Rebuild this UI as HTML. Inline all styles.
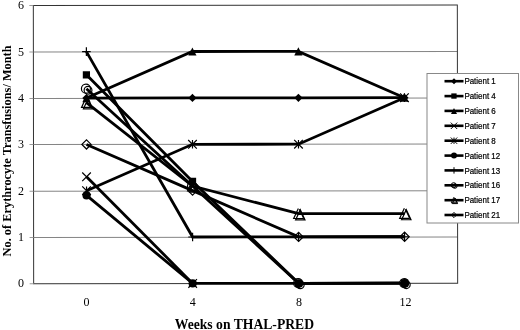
<!DOCTYPE html><html><head><meta charset="utf-8"><title>Chart</title><style>html,body{margin:0;padding:0;background:#fff}svg{display:block}text{fill:#000}</style></head><body>
<svg width="520" height="330" viewBox="0 0 520 330">
<rect width="520" height="330" fill="#fff"/>
<g transform="rotate(-0.068 33.5 150)">
<line x1="33.5" x2="457.5" y1="237.5" y2="237.5" stroke="#858585" stroke-width="1"/>
<line x1="33.5" x2="457.5" y1="191.3" y2="191.3" stroke="#858585" stroke-width="1"/>
<line x1="33.5" x2="457.5" y1="144.5" y2="144.5" stroke="#858585" stroke-width="1"/>
<line x1="33.5" x2="457.5" y1="98.4" y2="98.4" stroke="#858585" stroke-width="1"/>
<line x1="33.5" x2="457.5" y1="52.0" y2="52.0" stroke="#858585" stroke-width="1"/>
<rect x="33.5" y="5.5" width="424.0" height="278.3" fill="none" stroke="#333" stroke-width="1"/>
<line x1="29.5" x2="33.5" y1="283.8" y2="283.8" stroke="#999" stroke-width="1"/>
<line x1="29.5" x2="33.5" y1="237.5" y2="237.5" stroke="#999" stroke-width="1"/>
<line x1="29.5" x2="33.5" y1="191.3" y2="191.3" stroke="#999" stroke-width="1"/>
<line x1="29.5" x2="33.5" y1="144.5" y2="144.5" stroke="#999" stroke-width="1"/>
<line x1="29.5" x2="33.5" y1="98.4" y2="98.4" stroke="#999" stroke-width="1"/>
<line x1="29.5" x2="33.5" y1="52.0" y2="52.0" stroke="#999" stroke-width="1"/>
<line x1="29.5" x2="33.5" y1="5.5" y2="5.5" stroke="#999" stroke-width="1"/>
<polyline points="86.5,98.1 192.5,98.1 298.5,98.1 404.5,98.1" fill="none" stroke="#000" stroke-width="2.8" stroke-linejoin="miter"/>
<polyline points="86.5,74.9 192.5,181.6 298.5,283.6 404.5,283.6" fill="none" stroke="#000" stroke-width="2.8" stroke-linejoin="miter"/>
<polyline points="86.5,98.1 192.5,51.7 298.5,51.7 404.5,98.1" fill="none" stroke="#000" stroke-width="2.8" stroke-linejoin="miter"/>
<polyline points="86.5,176.9 192.5,283.6" fill="none" stroke="#000" stroke-width="2.8" stroke-linejoin="miter"/>
<polyline points="86.5,190.8 192.5,144.5 298.5,144.5 404.5,98.1" fill="none" stroke="#000" stroke-width="2.8" stroke-linejoin="miter"/>
<polyline points="86.5,195.5 192.5,283.6 298.5,283.6 404.5,283.6" fill="none" stroke="#000" stroke-width="2.8" stroke-linejoin="miter"/>
<polyline points="86.5,51.7 192.5,237.2 298.5,237.2 404.5,237.2" fill="none" stroke="#000" stroke-width="2.8" stroke-linejoin="miter"/>
<polyline points="86.5,88.8 192.5,186.2 298.5,283.6 404.5,283.6" fill="none" stroke="#000" stroke-width="2.8" stroke-linejoin="miter"/>
<polyline points="86.5,102.7 192.5,186.2 298.5,214.0 404.5,214.0" fill="none" stroke="#000" stroke-width="2.8" stroke-linejoin="miter"/>
<polyline points="86.5,144.5 192.5,190.8 298.5,237.2 404.5,237.2" fill="none" stroke="#000" stroke-width="2.8" stroke-linejoin="miter"/>
<path d="M82.4 98.1L86.5 94.0L90.6 98.1L86.5 102.2Z" fill="#000"/>
<path d="M188.4 98.1L192.5 94.0L196.6 98.1L192.5 102.2Z" fill="#000"/>
<path d="M294.4 98.1L298.5 94.0L302.6 98.1L298.5 102.2Z" fill="#000"/>
<path d="M400.4 98.1L404.5 94.0L408.6 98.1L404.5 102.2Z" fill="#000"/>
<rect x="82.9" y="71.3" width="7.2" height="7.2" fill="#000"/>
<rect x="188.9" y="178.0" width="7.2" height="7.2" fill="#000"/>
<rect x="294.9" y="280.0" width="7.2" height="7.2" fill="#000"/>
<rect x="400.9" y="280.0" width="7.2" height="7.2" fill="#000"/>
<path d="M82.4 102.2L86.5 94.0L90.6 102.2Z" fill="#000"/>
<path d="M188.4 55.8L192.5 47.6L196.6 55.8Z" fill="#000"/>
<path d="M294.4 55.8L298.5 47.6L302.6 55.8Z" fill="#000"/>
<path d="M400.4 102.2L404.5 94.0L408.6 102.2Z" fill="#000"/>
<path d="M82.2 172.6L90.8 181.2M82.2 181.2L90.8 172.6" stroke="#000" stroke-width="1.2" fill="none"/>
<path d="M188.2 279.3L196.8 287.9M188.2 287.9L196.8 279.3" stroke="#000" stroke-width="1.2" fill="none"/>
<path d="M82.2 186.5L90.8 195.1M82.2 195.1L90.8 186.5M86.5 186.5L86.5 195.1" stroke="#000" stroke-width="1.2" fill="none"/>
<path d="M188.2 140.2L196.8 148.8M188.2 148.8L196.8 140.2M192.5 140.2L192.5 148.8" stroke="#000" stroke-width="1.2" fill="none"/>
<path d="M294.2 140.2L302.8 148.8M294.2 148.8L302.8 140.2M298.5 140.2L298.5 148.8" stroke="#000" stroke-width="1.2" fill="none"/>
<path d="M400.2 93.8L408.8 102.4M400.2 102.4L408.8 93.8M404.5 93.8L404.5 102.4" stroke="#000" stroke-width="1.2" fill="none"/>
<circle cx="86.5" cy="195.5" r="4.1" fill="#000"/>
<circle cx="192.5" cy="283.6" r="4.1" fill="#000"/>
<circle cx="298.5" cy="283.6" r="4.1" fill="#000"/>
<circle cx="404.5" cy="283.6" r="4.1" fill="#000"/>
<path d="M82.2 51.7L90.8 51.7M86.5 47.4L86.5 56.0" stroke="#000" stroke-width="1.2" fill="none"/>
<path d="M188.2 237.2L196.8 237.2M192.5 232.9L192.5 241.5" stroke="#000" stroke-width="1.2" fill="none"/>
<path d="M294.2 237.2L302.8 237.2M298.5 232.9L298.5 241.5" stroke="#000" stroke-width="1.2" fill="none"/>
<path d="M400.2 237.2L408.8 237.2M404.5 232.9L404.5 241.5" stroke="#000" stroke-width="1.2" fill="none"/>
<circle cx="86.0" cy="88.7" r="4.5" fill="none" stroke="#000" stroke-width="1.2"/><circle cx="88.1" cy="90.3" r="3.9" fill="none" stroke="#000" stroke-width="1.2"/>
<circle cx="192.0" cy="186.1" r="4.5" fill="none" stroke="#000" stroke-width="1.2"/><circle cx="194.1" cy="187.7" r="3.9" fill="none" stroke="#000" stroke-width="1.2"/>
<circle cx="298.0" cy="283.5" r="4.5" fill="none" stroke="#000" stroke-width="1.2"/><circle cx="300.1" cy="285.1" r="3.9" fill="none" stroke="#000" stroke-width="1.2"/>
<circle cx="404.0" cy="283.5" r="4.5" fill="none" stroke="#000" stroke-width="1.2"/><circle cx="406.1" cy="285.1" r="3.9" fill="none" stroke="#000" stroke-width="1.2"/>
<path d="M86.3 97.4L81.6 107.5L91.0 107.5" fill="none" stroke="#000" stroke-width="1.2"/><path d="M83.5 108.9L88.2 98.8L92.9 108.9Z" fill="none" stroke="#000" stroke-width="1.2"/><path d="M87.4 98.2L92.1 108.3" fill="none" stroke="#000" stroke-width="1.2"/>
<path d="M192.3 180.9L187.6 191.0L197.0 191.0" fill="none" stroke="#000" stroke-width="1.2"/><path d="M189.5 192.4L194.2 182.3L198.9 192.4Z" fill="none" stroke="#000" stroke-width="1.2"/><path d="M193.4 181.7L198.1 191.8" fill="none" stroke="#000" stroke-width="1.2"/>
<path d="M298.3 208.7L293.6 218.8L303.0 218.8" fill="none" stroke="#000" stroke-width="1.2"/><path d="M295.5 220.2L300.2 210.1L304.9 220.2Z" fill="none" stroke="#000" stroke-width="1.2"/><path d="M299.4 209.6L304.1 219.7" fill="none" stroke="#000" stroke-width="1.2"/>
<path d="M404.3 208.7L399.6 218.8L409.0 218.8" fill="none" stroke="#000" stroke-width="1.2"/><path d="M401.5 220.2L406.2 210.1L410.9 220.2Z" fill="none" stroke="#000" stroke-width="1.2"/><path d="M405.4 209.6L410.1 219.7" fill="none" stroke="#000" stroke-width="1.2"/>
<path d="M81.9 144.5L86.5 139.9L91.1 144.5L86.5 149.1Z" fill="none" stroke="#000" stroke-width="1.2"/>
<path d="M187.9 190.8L192.5 186.2L197.1 190.8L192.5 195.4Z" fill="none" stroke="#000" stroke-width="1.2"/>
<path d="M293.9 237.2L298.5 232.6L303.1 237.2L298.5 241.8Z" fill="none" stroke="#000" stroke-width="1.2"/>
<path d="M399.9 237.2L404.5 232.6L409.1 237.2L404.5 241.8Z" fill="none" stroke="#000" stroke-width="1.2"/>
</g>
<text x="20.9" y="287.4" font-family="Liberation Serif, serif" font-size="12" text-anchor="middle">0</text>
<text x="20.9" y="241.1" font-family="Liberation Serif, serif" font-size="12" text-anchor="middle">1</text>
<text x="20.9" y="194.9" font-family="Liberation Serif, serif" font-size="12" text-anchor="middle">2</text>
<text x="20.9" y="148.1" font-family="Liberation Serif, serif" font-size="12" text-anchor="middle">3</text>
<text x="20.9" y="102.0" font-family="Liberation Serif, serif" font-size="12" text-anchor="middle">4</text>
<text x="20.9" y="55.6" font-family="Liberation Serif, serif" font-size="12" text-anchor="middle">5</text>
<text x="20.9" y="9.1" font-family="Liberation Serif, serif" font-size="12" text-anchor="middle">6</text>
<text x="86.5" y="306" font-family="Liberation Serif, serif" font-size="12" text-anchor="middle">0</text>
<text x="192.8" y="306" font-family="Liberation Serif, serif" font-size="12" text-anchor="middle">4</text>
<text x="299.1" y="306" font-family="Liberation Serif, serif" font-size="12" text-anchor="middle">8</text>
<text x="405.4" y="306" font-family="Liberation Serif, serif" font-size="12" text-anchor="middle">12</text>
<text x="244.4" y="328.6" font-family="Liberation Serif, serif" font-size="14" font-weight="bold" text-anchor="middle" textLength="139.3" lengthAdjust="spacingAndGlyphs">Weeks on THAL-PRED</text>
<text transform="translate(10.7,150.9) rotate(-90)" font-family="Liberation Serif, serif" font-size="13.4" font-weight="bold" text-anchor="middle" textLength="211" lengthAdjust="spacingAndGlyphs">No. of Erythrocyte Transfusions/ Month</text>
<rect x="427" y="73.5" width="91.5" height="149.5" fill="#fff" stroke="#888" stroke-width="1"/>
<line x1="444.5" x2="463.5" y1="81.2" y2="81.2" stroke="#000" stroke-width="2.6"/>
<path d="M451.0 81.2L454.0 78.2L457.0 81.2L454.0 84.2Z" fill="#000"/>
<text x="464.4" y="84.3" font-family="Liberation Sans, sans-serif" font-size="8.7" stroke="#000" stroke-width="0.22" textLength="31.4" lengthAdjust="spacingAndGlyphs">Patient 1</text>
<line x1="444.5" x2="463.5" y1="96.1" y2="96.1" stroke="#000" stroke-width="2.6"/>
<rect x="451.3" y="93.4" width="5.3" height="5.3" fill="#000"/>
<text x="464.4" y="99.2" font-family="Liberation Sans, sans-serif" font-size="8.7" stroke="#000" stroke-width="0.22" textLength="31.4" lengthAdjust="spacingAndGlyphs">Patient 4</text>
<line x1="444.5" x2="463.5" y1="110.9" y2="110.9" stroke="#000" stroke-width="2.6"/>
<path d="M451.0 114.0L454.0 107.9L457.0 114.0Z" fill="#000"/>
<text x="464.4" y="114.0" font-family="Liberation Sans, sans-serif" font-size="8.7" stroke="#000" stroke-width="0.22" textLength="31.4" lengthAdjust="spacingAndGlyphs">Patient 6</text>
<line x1="444.5" x2="463.5" y1="125.8" y2="125.8" stroke="#000" stroke-width="2.6"/>
<path d="M450.8 122.6L457.2 129.0M450.8 129.0L457.2 122.6" stroke="#000" stroke-width="1.0" fill="none"/>
<text x="464.4" y="128.9" font-family="Liberation Sans, sans-serif" font-size="8.7" stroke="#000" stroke-width="0.22" textLength="31.4" lengthAdjust="spacingAndGlyphs">Patient 7</text>
<line x1="444.5" x2="463.5" y1="140.7" y2="140.7" stroke="#000" stroke-width="2.6"/>
<path d="M450.8 137.5L457.2 143.9M450.8 143.9L457.2 137.5M454.0 137.5L454.0 143.9" stroke="#000" stroke-width="1.0" fill="none"/>
<text x="464.4" y="143.8" font-family="Liberation Sans, sans-serif" font-size="8.7" stroke="#000" stroke-width="0.22" textLength="31.4" lengthAdjust="spacingAndGlyphs">Patient 8</text>
<line x1="444.5" x2="463.5" y1="155.6" y2="155.6" stroke="#000" stroke-width="2.6"/>
<circle cx="454.0" cy="155.6" r="3.0" fill="#000"/>
<text x="464.4" y="158.7" font-family="Liberation Sans, sans-serif" font-size="8.7" stroke="#000" stroke-width="0.22" textLength="35.8" lengthAdjust="spacingAndGlyphs">Patient 12</text>
<line x1="444.5" x2="463.5" y1="170.4" y2="170.4" stroke="#000" stroke-width="2.6"/>
<path d="M450.8 170.4L457.2 170.4M454.0 167.2L454.0 173.6" stroke="#000" stroke-width="1.0" fill="none"/>
<text x="464.4" y="173.5" font-family="Liberation Sans, sans-serif" font-size="8.7" stroke="#000" stroke-width="0.22" textLength="35.8" lengthAdjust="spacingAndGlyphs">Patient 13</text>
<line x1="444.5" x2="463.5" y1="185.3" y2="185.3" stroke="#000" stroke-width="2.6"/>
<circle cx="453.7" cy="185.2" r="2.5" fill="none" stroke="#000" stroke-width="1.0"/><circle cx="454.9" cy="186.1" r="2.2" fill="none" stroke="#000" stroke-width="1.0"/>
<text x="464.4" y="188.4" font-family="Liberation Sans, sans-serif" font-size="8.7" stroke="#000" stroke-width="0.22" textLength="35.8" lengthAdjust="spacingAndGlyphs">Patient 16</text>
<line x1="444.5" x2="463.5" y1="200.2" y2="200.2" stroke="#000" stroke-width="2.6"/>
<path d="M453.9 197.2L451.3 202.8L456.5 202.8" fill="none" stroke="#000" stroke-width="1.0"/><path d="M452.3 203.6L455.0 198.0L457.6 203.6Z" fill="none" stroke="#000" stroke-width="1.0"/><path d="M454.5 197.7L457.2 203.3" fill="none" stroke="#000" stroke-width="1.0"/>
<text x="464.4" y="203.3" font-family="Liberation Sans, sans-serif" font-size="8.7" stroke="#000" stroke-width="0.22" textLength="35.8" lengthAdjust="spacingAndGlyphs">Patient 17</text>
<line x1="444.5" x2="463.5" y1="215.0" y2="215.0" stroke="#000" stroke-width="2.6"/>
<path d="M451.4 215.0L454.0 212.5L456.6 215.0L454.0 217.6Z" fill="none" stroke="#000" stroke-width="1.0"/>
<text x="464.4" y="218.1" font-family="Liberation Sans, sans-serif" font-size="8.7" stroke="#000" stroke-width="0.22" textLength="35.8" lengthAdjust="spacingAndGlyphs">Patient 21</text>
</svg></body></html>
